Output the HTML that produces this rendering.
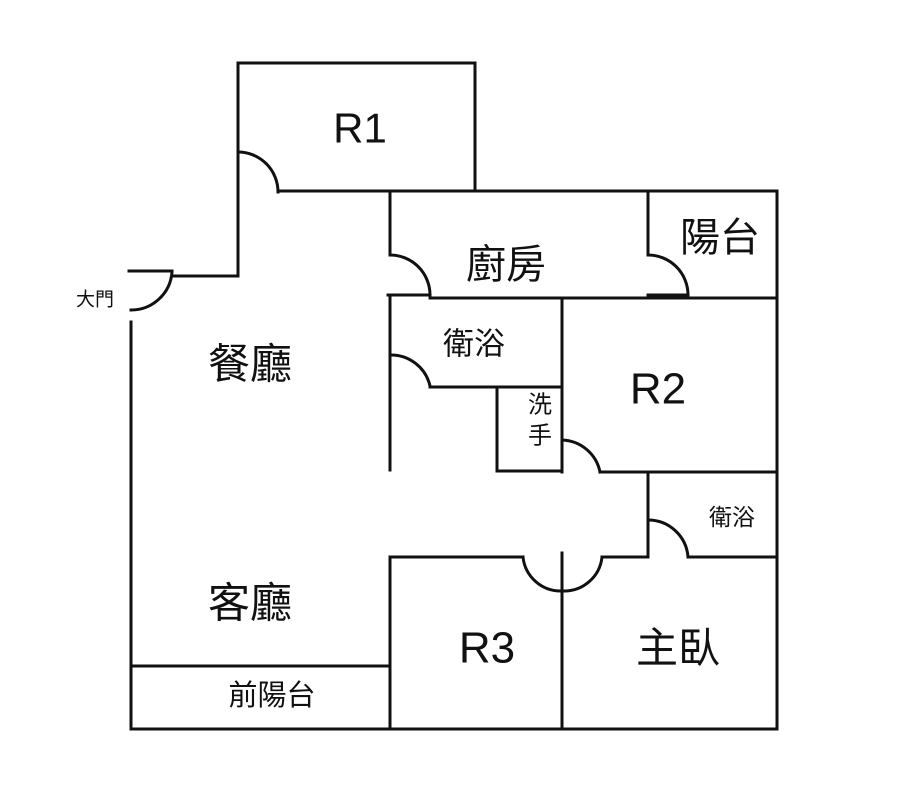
<!DOCTYPE html>
<html><head><meta charset="utf-8"><style>
html,body{margin:0;padding:0;background:#fff;}
svg{display:block}
text{font-family:"Liberation Sans","Noto Sans CJK TC",sans-serif;fill:#111;text-anchor:middle;dominant-baseline:central}
</style></head><body>
<svg width="900" height="801" viewBox="0 0 900 801" xmlns="http://www.w3.org/2000/svg">
<g stroke="#111" stroke-width="3" fill="none" stroke-linecap="square">
<!-- R1 -->
<polyline points="238,276 238,63 475,63 475,191"/>
<line x1="278" y1="191" x2="777" y2="191"/>
<path d="M238,152 A40,40 0 0 1 278,192"/>
<!-- entrance -->
<line x1="172" y1="276" x2="238" y2="276"/>
<line x1="129" y1="271" x2="172" y2="271"/>
<path d="M172,272 A41,41 0 0 1 131,310"/>
<line x1="131" y1="322" x2="131" y2="729"/>
<!-- outer -->
<line x1="777" y1="191" x2="777" y2="729"/>
<line x1="131" y1="729" x2="777" y2="729"/>
<line x1="131" y1="666" x2="390" y2="666"/>
<!-- kitchen -->
<line x1="390" y1="191" x2="390" y2="255"/>
<path d="M390,255 A40,40 0 0 1 430,295"/>
<line x1="388" y1="295" x2="430" y2="295"/>
<line x1="430" y1="298" x2="777" y2="298"/>
<line x1="648" y1="191" x2="648" y2="255"/>
<path d="M648,255 A40,40 0 0 1 688,295"/>
<line x1="648" y1="295" x2="688" y2="295"/>
<!-- bath -->
<line x1="390" y1="298" x2="390" y2="470"/>
<path d="M390,355 A40,40 0 0 1 430,386"/>
<line x1="430" y1="387" x2="562" y2="387"/>
<line x1="562" y1="298" x2="562" y2="472"/>
<!-- wash -->
<polyline points="497,387 497,471 562,471"/>
<path d="M562,440 A40,40 0 0 1 600,472"/>
<line x1="600" y1="472" x2="777" y2="472"/>
<!-- small bath -->
<line x1="648" y1="472" x2="648" y2="557"/>
<path d="M648,520 A40,40 0 0 1 688,557"/>
<line x1="688" y1="557" x2="777" y2="557"/>
<line x1="602" y1="557" x2="648" y2="557"/>
<line x1="390" y1="557" x2="523" y2="557"/>
<line x1="390" y1="557" x2="390" y2="729"/>
<line x1="562" y1="553" x2="562" y2="729"/>
<path d="M523,557 A38,38 0 0 0 561,591"/>
<path d="M602,557 A38,38 0 0 1 563,591"/>
</g>
<text x="360" y="128" font-size="42">R1</text>
<text x="506" y="265" font-size="40">廚房</text>
<text x="720" y="238" font-size="40">陽台</text>
<text x="95" y="300" font-size="19">大門</text>
<text x="250" y="364" font-size="42">餐廳</text>
<text x="474" y="344" font-size="31">衛浴</text>
<text x="658" y="389" font-size="44">R2</text>
<text x="540" y="405" font-size="24">洗</text>
<text x="540" y="436" font-size="24">手</text>
<text x="732" y="517" font-size="23">衛浴</text>
<text x="250" y="603" font-size="42">客廳</text>
<text x="487" y="648" font-size="44">R3</text>
<text x="678" y="648" font-size="42">主臥</text>
<text x="272" y="696" font-size="29">前陽台</text>
</svg>
</body></html>
